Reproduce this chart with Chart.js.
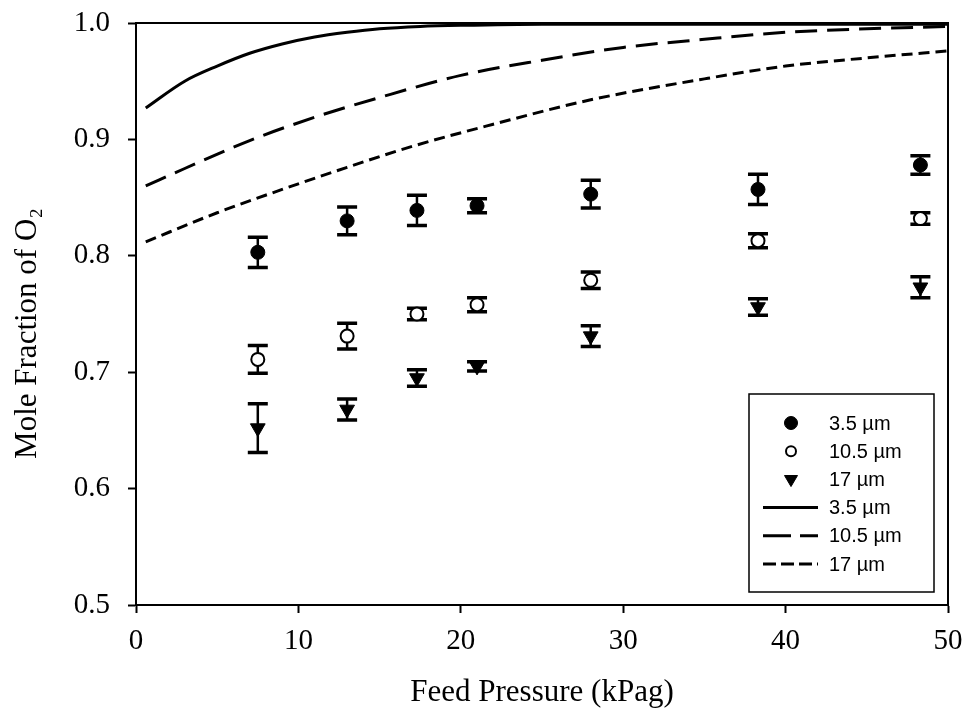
<!DOCTYPE html>
<html>
<head>
<meta charset="utf-8">
<script src="https://cdn.jsdelivr.net/npm/chart.js@4/dist/chart.umd.min.js"></script>
<style>
  html, body { margin: 0; padding: 0; background: #fff; }
  #wrap { width: 965px; height: 717px; }
</style>
</head>
<body>
<div id="wrap"><canvas id="c" width="965" height="717"></canvas></div>
<script>
// Measured permeate O2 mole fraction vs feed pressure, three membrane thicknesses
const pressure = [7.5, 13, 17.3, 21, 28, 38.3, 48.3];
const meas35  = [0.803, 0.830, 0.839, 0.843, 0.853, 0.857, 0.878];
const err35   = [0.013, 0.012, 0.013, 0.006, 0.012, 0.013, 0.008];
const meas105 = [0.711, 0.731, 0.750, 0.758, 0.779, 0.813, 0.832];
const err105  = [0.012, 0.011, 0.005, 0.006, 0.007, 0.006, 0.005];
const meas17  = [0.652, 0.668, 0.695, 0.705, 0.731, 0.756, 0.773];
const err17   = [0.021, 0.009, 0.007, 0.004, 0.009, 0.007, 0.009];

// Model predictions
const model35X = [0.6, 3, 5, 7, 9, 11, 13, 15, 17.5, 20, 25, 30, 40, 50];
const model35Y = [0.927, 0.950, 0.963, 0.974, 0.982, 0.988, 0.992, 0.995, 0.997, 0.998, 0.999, 0.999, 0.999, 0.999];
const model105X = [0.6, 3, 7, 11, 15, 20, 25, 30, 35, 40, 45, 50];
const model105Y = [0.860, 0.875, 0.899, 0.919, 0.936, 0.955, 0.968, 0.979, 0.986, 0.992, 0.995, 0.997];
const model17X = [0.6, 5, 9, 13, 17, 22, 28, 35, 40, 45, 50];
const model17Y = [0.812, 0.837, 0.857, 0.876, 0.894, 0.913, 0.934, 0.952, 0.963, 0.970, 0.976];

const seriesLabels = ['3.5 µm', '10.5 µm', '17 µm'];
const xTicks = [0, 10, 20, 30, 40, 50];
const yTicks = [0.5, 0.6, 0.7, 0.8, 0.9, 1.0];

const pts = (xs, ys) => xs.map((x, i) => ({ x: x, y: ys[i] }));

const SERIF = '"Liberation Serif", "Times New Roman", serif';
const SANS = '"Liberation Sans", Arial, sans-serif';

// Vertical error bars with caps, drawn under the markers
const errorBarPlugin = {
  id: 'errorBars',
  beforeDatasetsDraw(chart) {
    const ctx = chart.ctx;
    const xs = chart.scales.x, ys = chart.scales.y;
    chart.data.datasets.forEach((ds, di) => {
      if (!ds.errorBars || !chart.isDatasetVisible(di)) return;
      ctx.save();
      ctx.strokeStyle = '#000';
      ds.data.forEach((p, i) => {
        const e = ds.errorBars[i];
        const px = xs.getPixelForValue(p.x);
        const yTop = ys.getPixelForValue(p.y + e);
        const yBot = ys.getPixelForValue(p.y - e);
        ctx.lineWidth = 2.5;
        ctx.beginPath();
        ctx.moveTo(px, yTop); ctx.lineTo(px, yBot);
        ctx.stroke();
        ctx.lineWidth = 3.5;
        ctx.beginPath();
        ctx.moveTo(px - 10, yTop); ctx.lineTo(px + 10, yTop);
        ctx.moveTo(px - 10, yBot); ctx.lineTo(px + 10, yBot);
        ctx.stroke();
      });
      ctx.restore();
    });
  }
};

// Frame around the plotting area
const framePlugin = {
  id: 'frame',
  afterDatasetsDraw(chart) {
    const a = chart.chartArea, ctx = chart.ctx;
    ctx.save();
    ctx.strokeStyle = '#000';
    ctx.lineWidth = 2;
    ctx.strokeRect(a.left, a.top, a.right - a.left, a.bottom - a.top);
    ctx.restore();
  }
};

// Boxed legend in the lower-right corner of the plot
const boxLegendPlugin = {
  id: 'boxLegend',
  afterDraw(chart) {
    const a = chart.chartArea, ctx = chart.ctx;
    const boxR = a.right - 14, boxB = a.bottom - 13;
    const boxW = 185, boxH = 198;
    const boxL = boxR - boxW, boxT = boxB - boxH;
    ctx.save();
    ctx.fillStyle = '#fff';
    ctx.fillRect(boxL, boxT, boxW, boxH);
    ctx.strokeStyle = '#000';
    ctx.lineWidth = 1.5;
    ctx.strokeRect(boxL, boxT, boxW, boxH);
    const symX = boxL + 42;
    const textX = boxL + 80;
    const rowH = 28.2;
    ctx.font = '20px ' + SANS;
    ctx.textBaseline = 'middle';
    ctx.textAlign = 'left';
    chart.data.datasets.forEach((ds, i) => {
      const y = boxT + 29 + i * rowH;
      if (ds.showLine === false) {
        ctx.fillStyle = ds.pointBackgroundColor;
        ctx.strokeStyle = ds.pointBorderColor;
        ctx.lineWidth = ds.pointBorderWidth;
        ctx.beginPath();
        if (ds.pointStyle === 'circle') {
          ctx.arc(symX, y, ds.legendRadius, 0, Math.PI * 2);
        } else {
          const r = ds.legendRadius;
          ctx.moveTo(symX - r, y - r * 0.6);
          ctx.lineTo(symX + r, y - r * 0.6);
          ctx.lineTo(symX, y + r * 1.1);
          ctx.closePath();
        }
        ctx.fill();
        ctx.stroke();
      } else {
        ctx.strokeStyle = ds.borderColor;
        ctx.lineWidth = ds.borderWidth;
        ctx.setLineDash(ds.legendDash || []);
        ctx.beginPath();
        ctx.moveTo(symX - 28, y);
        ctx.lineTo(symX + 27, y);
        ctx.stroke();
        ctx.setLineDash([]);
      }
      ctx.fillStyle = '#000';
      ctx.fillText(ds.label, textX, y + 1);
    });
    ctx.restore();
  }
};

const lineBase = {
  type: 'line',
  showLine: true,
  pointRadius: 0,
  borderColor: '#000',
  borderWidth: 3,
  fill: false,
  cubicInterpolationMode: 'monotone',
  order: 2
};

new Chart(document.getElementById('c'), {
  type: 'scatter',
  data: {
    datasets: [
      {
        label: seriesLabels[0], data: pts(pressure, meas35), errorBars: err35,
        showLine: false, pointStyle: 'circle', pointRadius: 7, legendRadius: 6.5,
        pointBackgroundColor: '#000', pointBorderColor: '#000', pointBorderWidth: 1, order: 1
      },
      {
        label: seriesLabels[1], data: pts(pressure, meas105), errorBars: err105,
        showLine: false, pointStyle: 'circle', pointRadius: 6.5, legendRadius: 5,
        pointBackgroundColor: '#fff', pointBorderColor: '#000', pointBorderWidth: 2, order: 1
      },
      {
        label: seriesLabels[2], data: pts(pressure, meas17), errorBars: err17,
        showLine: false, pointStyle: 'triangle', pointRotation: 180, pointRadius: 8.5, legendRadius: 6.5,
        pointBackgroundColor: '#000', pointBorderColor: '#000', pointBorderWidth: 1, order: 1
      },
      Object.assign({}, lineBase, {
        label: seriesLabels[0], data: pts(model35X, model35Y), borderDash: [], legendDash: []
      }),
      Object.assign({}, lineBase, {
        label: seriesLabels[1], data: pts(model105X, model105Y), borderDash: [22, 10], legendDash: [28, 9]
      }),
      Object.assign({}, lineBase, {
        label: seriesLabels[2], data: pts(model17X, model17Y), borderDash: [11, 6], legendDash: [13, 5]
      })
    ]
  },
  options: {
    responsive: false,
    animation: false,
    devicePixelRatio: 1,
    layout: { padding: { top: 23, right: 17, left: 0, bottom: 0 } },
    plugins: {
      legend: { display: false },
      tooltip: { enabled: false }
    },
    scales: {
      x: {
        type: 'linear', min: 0, max: 50,
        afterFit(scale) {
          scale.height = 112;
          scale.paddingLeft = 0; scale.paddingRight = 0;
        },
        afterBuildTicks(scale) { scale.ticks = xTicks.map(v => ({ value: v })); },
        ticks: {
          color: '#000', padding: 11,
          font: { family: SERIF, size: 29 },
          callback: v => String(v)
        },
        grid: { display: true, drawOnChartArea: false, drawTicks: true, tickLength: 8, tickWidth: 2, color: '#000' },
        border: { display: true, color: '#000', width: 2 },
        title: {
          display: true, text: 'Feed Pressure (kPag)', color: '#000',
          font: { family: SERIF, size: 31 },
          padding: { top: 0, bottom: 6 }
        }
      },
      y: {
        type: 'linear', min: 0.5, max: 1.0,
        afterFit(scale) {
          scale.width = 136;
          scale.paddingTop = 0; scale.paddingBottom = 0;
        },
        afterBuildTicks(scale) { scale.ticks = yTicks.map(v => ({ value: v })); },
        ticks: {
          color: '#000', padding: 18,
          font: { family: SERIF, size: 29 },
          callback: v => Number(v).toFixed(1)
        },
        grid: { display: true, drawOnChartArea: false, drawTicks: true, tickLength: 8, tickWidth: 2, color: '#000' },
        border: { display: true, color: '#000', width: 2 },
        title: {
          display: true, text: 'Mole Fraction of O₂     ', color: '#000',
          font: { family: SERIF, size: 31 },
          padding: { top: 9, bottom: 0 }
        }
      }
    }
  },
  plugins: [errorBarPlugin, framePlugin, boxLegendPlugin]
});
</script>
</body>
</html>
